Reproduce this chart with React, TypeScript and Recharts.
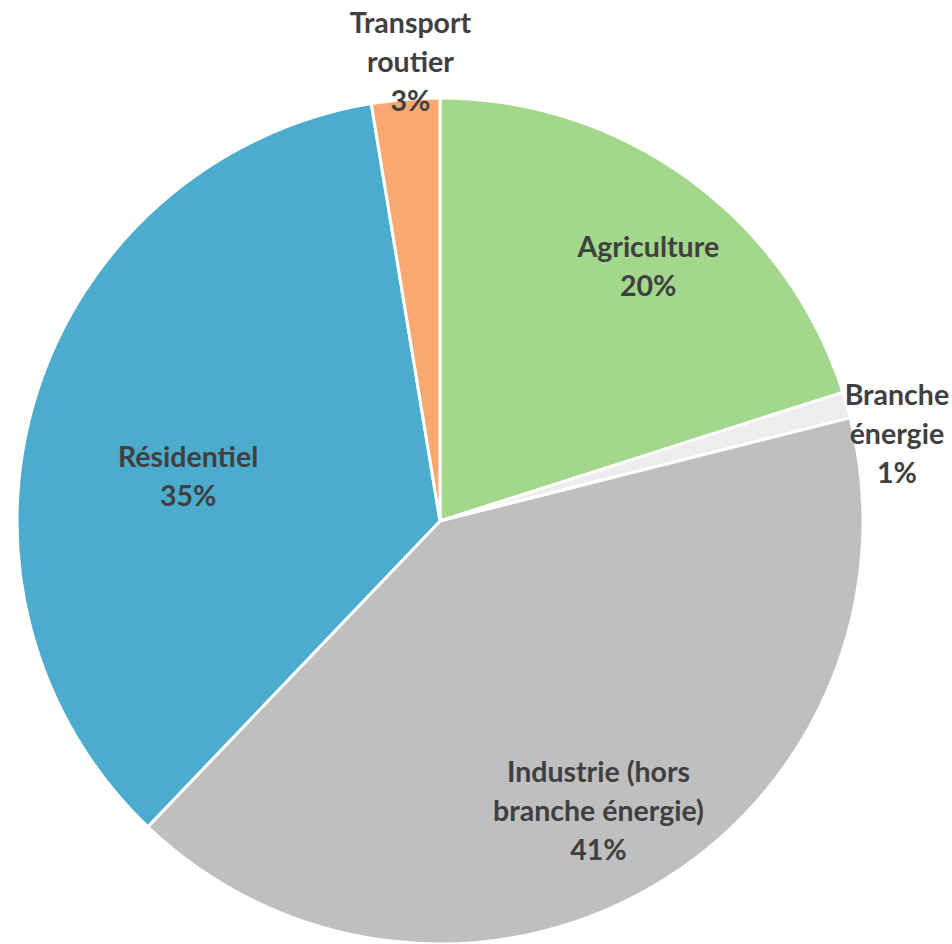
import { PieChart, Pie, Cell } from 'recharts';

const sectors = ['Agriculture', 'Branche énergie', 'Industrie (hors branche énergie)', 'Résidentiel', 'Transport routier'];
const labelLines = [['Agriculture'], ['Branche', 'énergie'], ['Industrie (hors', 'branche énergie)'], ['Résidentiel'], ['Transport', 'routier']];
const shares = [20.1, 1.0, 41.1, 35.3, 2.6];
const colors = ['#A3D78B', '#EDEDED', '#BFBFBF', '#4BACCE', '#F8A972'];

// label placement: fraction of radius + angle nudge (degrees)
const labelPos = [
  { r: 0.78, shift: -3 },
  { r: 1.1, shift: -5 },
  { r: 0.78, shift: -1.5 },
  { r: 0.605, shift: 7 },
  { r: 1.09, shift: -1 },
];

const data = sectors.map((name, i) => ({ name, value: shares[i] }));
const RAD = Math.PI / 180;

const renderLabel = (props: any) => {
  const { cx, cy, midAngle, outerRadius, percent, index } = props;
  const p = labelPos[index];
  const a = (midAngle + p.shift) * RAD;
  const r = outerRadius * p.r;
  const x = cx + r * Math.cos(a);
  const y = cy - r * Math.sin(a);
  const lines = [...labelLines[index], `${Math.round(percent * 100)}%`];
  const lh = 39;
  const y0 = y - ((lines.length - 1) * lh) / 2;
  return (
    <text
      x={x}
      y={y0}
      textAnchor="middle"
      dominantBaseline="central"
      fill="#404040"
      fontFamily="Lato, sans-serif"
      fontWeight={700}
      fontSize={28.5}
    >
      {lines.map((l, k) => (
        <tspan key={k} x={x} y={y0 + k * lh}>
          {l}
        </tspan>
      ))}
    </text>
  );
};

export default function App() {
  return (
    <div style={{ position: 'absolute', left: 0, top: 0, width: 952, height: 944, background: '#fff' }}>
      <PieChart width={952} height={944} margin={{ top: 0, right: 0, bottom: 0, left: 0 }}>
        <Pie
          data={data}
          dataKey="value"
          cx={440}
          cy={521}
          outerRadius={423}
          startAngle={90}
          endAngle={-270}
          stroke="#fff"
          strokeWidth={3}
          label={renderLabel}
          labelLine={false}
          isAnimationActive={false}
        >
          {data.map((d, i) => (
            <Cell key={d.name} fill={colors[i]} />
          ))}
        </Pie>
      </PieChart>
    </div>
  );
}
